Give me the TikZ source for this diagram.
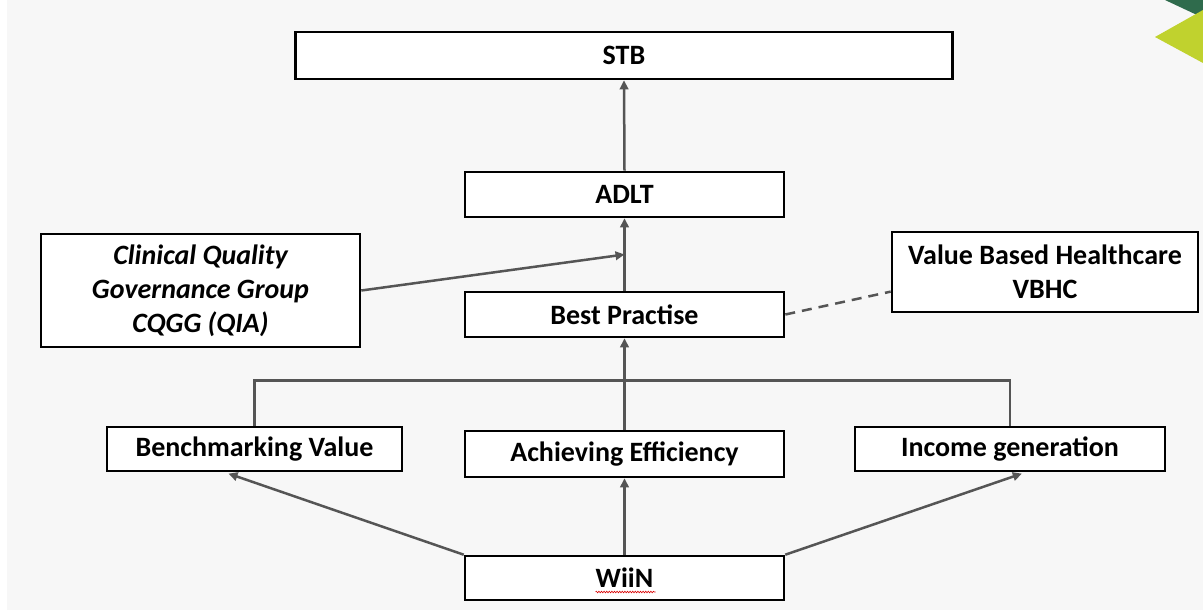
\documentclass[tikz,border=0pt]{standalone}
\usepackage{fontspec}
\setmainfont{Carlito}
\usetikzlibrary{arrows.meta,calc,decorations.pathmorphing}
\definecolor{pagebg}{HTML}{F7F7F7}
\definecolor{linkgray}{HTML}{555555}
\definecolor{leafgreen}{HTML}{C0D22E}
\definecolor{darkgreen}{HTML}{2F6B4C}
\begin{document}
\begin{tikzpicture}[x=1pt,y=-1pt,
  box/.style={draw=black,fill=white,line width=2.6pt,inner sep=0pt,
    font=\fontsize{28}{34}\selectfont\bfseries,align=center},
  link/.style={draw=linkgray,line width=2.5pt,-{Triangle[length=9pt,width=8.5pt]}},
  plainlink/.style={draw=linkgray,line width=2.5pt},
  dashlink/.style={draw=linkgray,line width=2.5pt,dash pattern=on 10pt off 7pt}
]
\useasboundingbox (0,0) rectangle (1203,610);
\fill[white] (0,0) rectangle (1203,610);
\fill[pagebg] (7,0) rectangle (1203,610);

% corner ornament
\fill[darkgreen] (1165,0) -- (1197,15) -- (1203,12) -- (1203,0) -- cycle;
\fill[leafgreen] (1155,37) -- (1203,10) -- (1203,63) -- cycle;

% boxes
\node[box,minimum width=657pt,minimum height=47pt] (stb)  at (624,55.5) {STB};
\node[box,minimum width=319pt,minimum height=45pt] (adlt) at (624.5,194.5) {ADLT};
\node[box,minimum width=319pt,minimum height=45pt] (bp)   at (624.5,314.5) {Best Practise};
\node[box,minimum width=319pt,minimum height=113pt,font=\fontsize{28}{34}\selectfont\bfseries\itshape] (cqgg) at (200.5,290.5)
  {Clinical Quality\\Governance Group\\CQGG (QIA)};
\node[box,minimum width=306pt,minimum height=80pt] (vbhc) at (1045,272) {Value Based Healthcare\\VBHC};
\node[box,minimum width=295pt,minimum height=44pt] (bench) at (254.5,449) {Benchmarking Value};
\node[box,minimum width=319pt,minimum height=46pt] (ach)   at (624.5,454) {Achieving Efficiency};
\node[box,minimum width=310pt,minimum height=44pt] (inc)   at (1010,449) {Income generation};
\node[box,minimum width=319pt,minimum height=44pt] (wiin)  at (624.5,578) {WiiN};

% spelling mark under WiiN
\draw[red!85!black,line width=0.6pt,decorate,decoration={snake,amplitude=0.8pt,segment length=2.6pt}]
  ($(wiin.center)+(-29,14)$) -- ++(60,0);

% connectors
\draw[link] (adlt.north) -- (stb.south);
\draw[link] (bp.north) -- (adlt.south);
\coordinate (join) at ($(bp.north)!0.5!(adlt.south)$);
\draw[link] (cqgg.east) -- (join);
\draw[dashlink] (bp.east) -- ($(vbhc.west)!0.475!(vbhc.south west)$);

\draw[link] (ach.north) -- (bp.south);
\draw[plainlink] (bench.north) -- ++(0,-45) -| (inc.north);

\draw[link,shorten >=4pt] (wiin.north west) -- ($(bench.south west)!0.4!(bench.south east)$);
\draw[link] (wiin.north) -- (ach.south);
\draw[link,shorten >=4pt] (wiin.north east) -- ($(inc.south west)!0.55!(inc.south east)$);
\end{tikzpicture}
\end{document}
